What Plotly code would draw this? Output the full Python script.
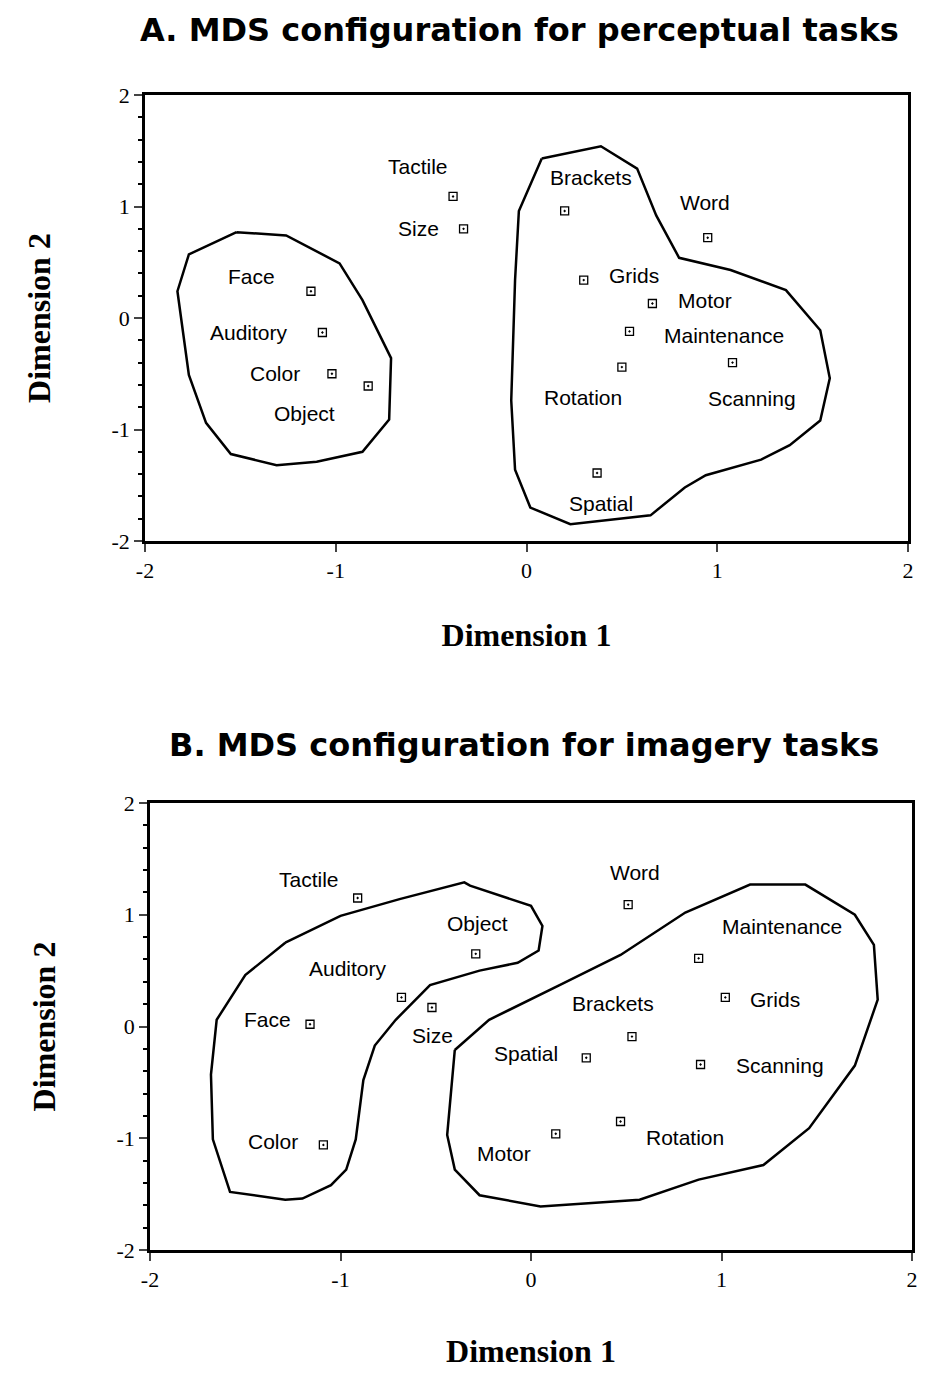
import plotly.graph_objects as go

# ---------- data ----------
tasks_a = ["Tactile","Size","Face","Auditory","Color","Object","Brackets","Word","Grids","Motor","Maintenance","Rotation","Scanning","Spatial"]
x_a = [-0.385,-0.33,-1.13,-1.07,-1.02,-0.83,0.20,0.95,0.30,0.66,0.54,0.50,1.08,0.37]
y_a = [1.09,0.80,0.24,-0.13,-0.50,-0.61,0.96,0.72,0.34,0.13,-0.12,-0.44,-0.40,-1.39]

tasks_b = ["Tactile","Object","Word","Maintenance","Grids","Auditory","Size","Face","Brackets","Spatial","Scanning","Color","Motor","Rotation"]
x_b = [-0.91,-0.29,0.51,0.88,1.02,-0.68,-0.52,-1.16,0.53,0.29,0.89,-1.09,0.13,0.47]
y_b = [1.15,0.65,1.09,0.61,0.26,0.26,0.17,0.02,-0.09,-0.28,-0.34,-1.06,-0.96,-0.85]

# cluster boundaries (data units)
hullA1_x = [-1.52,-1.26,-0.98,-0.86,-0.71,-0.72,-0.86,-1.10,-1.31,-1.55,-1.68,-1.77,-1.83,-1.77,-1.52]
hullA1_y = [0.77,0.74,0.49,0.16,-0.36,-0.91,-1.20,-1.29,-1.32,-1.22,-0.94,-0.51,0.24,0.57,0.77]
hullA2_x = [0.08,0.39,0.58,0.68,0.80,1.07,1.36,1.54,1.59,1.54,1.38,1.23,0.94,0.83,0.65,0.23,0.02,-0.06,-0.08,-0.06,-0.04,0.08]
hullA2_y = [1.43,1.54,1.34,0.92,0.54,0.43,0.25,-0.11,-0.54,-0.92,-1.14,-1.27,-1.41,-1.52,-1.77,-1.85,-1.70,-1.36,-0.74,0.34,0.96,1.43]
hullB1_x = [-1.29,-1.00,-0.69,-0.35,-0.32,0.00,0.06,0.04,-0.07,-0.27,-0.53,-0.71,-0.82,-0.88,-0.92,-0.97,-1.05,-1.20,-1.29,-1.58,-1.67,-1.68,-1.65,-1.50,-1.29]
hullB1_y = [0.75,0.99,1.14,1.29,1.26,1.08,0.90,0.68,0.57,0.50,0.37,0.06,-0.17,-0.48,-1.01,-1.28,-1.42,-1.54,-1.55,-1.48,-1.01,-0.43,0.06,0.46,0.75]
hullB2_x = [-0.40,-0.22,0.15,0.47,0.81,1.15,1.44,1.70,1.80,1.82,1.70,1.46,1.22,0.88,0.57,0.05,-0.27,-0.40,-0.44,-0.40]
hullB2_y = [-0.21,0.06,0.37,0.64,1.02,1.27,1.27,1.00,0.73,0.24,-0.35,-0.91,-1.24,-1.37,-1.55,-1.61,-1.51,-1.28,-0.97,-0.21]

title_a = "A. MDS configuration for perceptual tasks"
title_b = "B. MDS configuration for imagery tasks"
tick_vals = [-2,-1,0,1,2]
tick_text = ["-2","-1","0","1","2"]

# ---------- label offsets (pixels) ----------
off_a = {"Tactile":(-35,30),"Size":(-45,0),"Face":(-59,15),"Auditory":(-73,0),"Color":(-57,0),
         "Object":(-64,-27),"Brackets":(26,33),"Word":(-3,35),"Grids":(50,5),"Motor":(53,3),
         "Maintenance":(94,-4),"Rotation":(-39,-30),"Scanning":(19,-36),"Spatial":(4,-31)}
off_b = {"Tactile":(-49,18),"Object":(2,30),"Word":(7,32),"Maintenance":(83,32),"Grids":(50,-2),
         "Auditory":(-53,29),"Size":(1,-28),"Face":(-43,5),"Brackets":(-19,33),"Spatial":(-60,4),
         "Scanning":(79,-1),"Color":(-50,3),"Motor":(-52,-20),"Rotation":(64,-16)}

W, H, OFF = 945, 1384, 8
def px(v): return (v - OFF) / W
def py(v): return 1 - (v - OFF) / H

fig = go.Figure()
line = dict(color="black", width=2.5)
for hx, hy, xa, ya in [(hullA1_x,hullA1_y,"x","y"),(hullA2_x,hullA2_y,"x","y"),
                       (hullB1_x,hullB1_y,"x2","y2"),(hullB2_x,hullB2_y,"x2","y2")]:
    fig.add_trace(go.Scatter(x=hx, y=hy, mode="lines", line=line, xaxis=xa, yaxis=ya,
                             hoverinfo="skip"))
mk = dict(symbol="square-open-dot", size=8, color="black", line=dict(width=1.3))
fig.add_trace(go.Scatter(x=x_a, y=y_a, mode="markers", marker=mk, xaxis="x", yaxis="y"))
fig.add_trace(go.Scatter(x=x_b, y=y_b, mode="markers", marker=mk, xaxis="x2", yaxis="y2"))

ann = []
lab_font = dict(family="Liberation Sans, Arial", size=21, color="black")
for names, xs, ys, off, xr, yr in [(tasks_a,x_a,y_a,off_a,"x","y"),(tasks_b,x_b,y_b,off_b,"x2","y2")]:
    for n, xv, yv in zip(names, xs, ys):
        dx, dy = off[n]
        ann.append(dict(x=xv, y=yv, xref=xr, yref=yr, text=n, showarrow=False,
                        xshift=dx, yshift=dy, font=lab_font))
tfont = dict(family="DejaVu Sans, Verdana", size=32, color="black")
ann.append(dict(x=px(519), y=py(30), xref="paper", yref="paper", text="<b>"+title_a+"</b>",
                showarrow=False, font=tfont, xanchor="center", yanchor="middle"))
ann.append(dict(x=px(524), y=py(745), xref="paper", yref="paper", text="<b>"+title_b+"</b>",
                showarrow=False, font=tfont, xanchor="center", yanchor="middle"))

def xax(dom, anchor, so):
    return dict(domain=dom, anchor=anchor, range=[-2,2], tickvals=tick_vals, ticktext=tick_text,
                showline=True, automargin=False,
                linecolor="black", linewidth=2.5, mirror=True, ticks="outside", ticklen=8,
                tickwidth=2, showgrid=False, zeroline=False,
                tickfont=dict(family="Liberation Serif", size=22, color="black"),
                title=dict(text="<b>Dimension 1</b>", standoff=so,
                           font=dict(family="Liberation Serif", size=32, color="black")))
def yax(dom, anchor):
    return dict(domain=dom, anchor=anchor, range=[-2,2], tickvals=tick_vals, ticktext=tick_text,
                showline=True, automargin=False,
                linecolor="black", linewidth=2.5, mirror=True, ticks="outside", ticklen=8,
                tickwidth=2, showgrid=False, zeroline=False,
                minor=dict(dtick=0.2, ticks="outside", ticklen=4, tickwidth=1.5, tickcolor="black"),
                tickfont=dict(family="Liberation Serif", size=22, color="black"),
                title=dict(text="<b>Dimension 2</b>", standoff=52,
                           font=dict(family="Liberation Serif", size=32, color="black")))

fig.update_layout(
    width=W, height=H, showlegend=False, plot_bgcolor="white", paper_bgcolor="white",
    margin=dict(l=0, r=0, t=0, b=0, autoexpand=False), annotations=ann,
    xaxis=xax([px(145), px(908)], "y", 42), yaxis=yax([py(541), py(95)], "x"),
    xaxis2=xax([px(150), px(912)], "y2", 49), yaxis2=yax([py(1250), py(803)], "x2"),
)
fig.write_html("out.html")
